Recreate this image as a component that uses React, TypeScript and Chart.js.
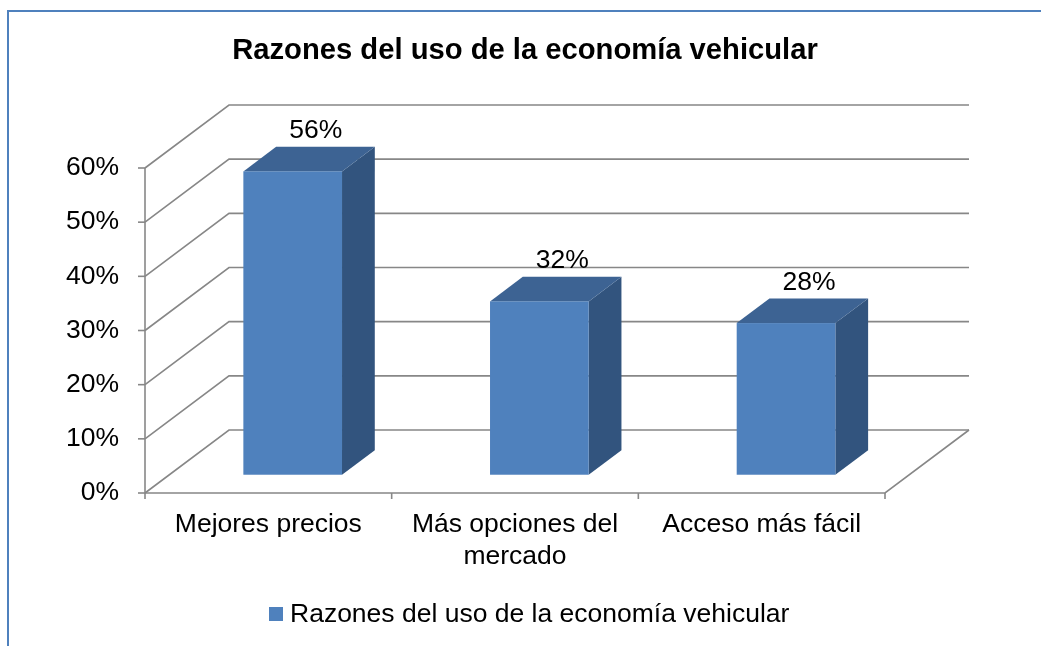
import React, { useEffect, useRef } from 'react';
import { Chart, registerables } from 'chart.js';

Chart.register(...registerables);

const TITLE = 'Razones del uso de la economía vehicular';
const SERIES_NAME = 'Razones del uso de la economía vehicular';
const CATEGORIES: (string | string[])[] = ['Mejores precios', ['Más opciones del', 'mercado'], 'Acceso más fácil'];
const VALUES = [56, 32, 28];
const Y_TICKS = [0, 10, 20, 30, 40, 50, 60];
const Y_MAX = 60;

const FONT = '"Liberation Sans", Arial, sans-serif';
const FRONT = '#4F81BD';
const TOP = '#3D6393';
const SIDE = '#32547E';
const GRID = '#878787';
const BORDER = '#4F81BD';
const DX = 84;
const DY = -63;
const BAR_OFF = 0.29;
const BAR_DEPTH = 0.39;

const threeD = {
  id: 'threeD',
  beforeDatasetsDraw(chart: any) {
    const { ctx, chartArea: a, scales } = chart;
    const x = scales.x;
    const y = scales.y;
    ctx.save();
    // outer border
    ctx.strokeStyle = BORDER;
    ctx.lineWidth = 2;
    ctx.beginPath();
    ctx.moveTo(8, 646);
    ctx.lineTo(8, 11);
    ctx.lineTo(1041, 11);
    ctx.stroke();

    ctx.strokeStyle = GRID;
    ctx.lineWidth = 1.6;
    ctx.lineJoin = 'miter';
    // walls / gridlines
    for (const v of Y_TICKS) {
      const py = y.getPixelForValue(v);
      ctx.beginPath();
      ctx.moveTo(a.left, py);
      ctx.lineTo(a.left + DX, py + DY);
      ctx.lineTo(a.right + DX, py + DY);
      ctx.stroke();
      // tick mark
      ctx.beginPath();
      ctx.moveTo(a.left - 7, py);
      ctx.lineTo(a.left, py);
      ctx.stroke();
    }
    const base = y.getPixelForValue(0);
    // y axis
    ctx.beginPath();
    ctx.moveTo(a.left, y.getPixelForValue(Y_MAX));
    ctx.lineTo(a.left, base);
    ctx.stroke();
    // floor front and right edges
    ctx.beginPath();
    ctx.moveTo(a.left, base);
    ctx.lineTo(a.right, base);
    ctx.lineTo(a.right + DX, base + DY);
    ctx.stroke();
    // category tick marks
    const n = CATEGORIES.length;
    const bounds: number[] = [a.left];
    for (let i = 1; i < n; i++) {
      bounds.push((x.getPixelForValue(i - 1) + x.getPixelForValue(i)) / 2);
    }
    bounds.push(a.right);
    for (const bx of bounds) {
      ctx.beginPath();
      ctx.moveTo(bx, base);
      ctx.lineTo(bx, base + 6);
      ctx.stroke();
    }
    ctx.restore();
  },
  afterDatasetsDraw(chart: any) {
    const { ctx } = chart;
    const meta = chart.getDatasetMeta(0);
    ctx.save();
    const fx = BAR_OFF * DX;
    const fy = BAR_OFF * DY;
    const ddx = BAR_DEPTH * DX;
    const ddy = BAR_DEPTH * DY;
    meta.data.forEach((el: any, i: number) => {
      const p = el.getProps(['x', 'y', 'base', 'width'], true);
      const L = p.x - p.width / 2 + fx;
      const R = p.x + p.width / 2 + fx;
      const T = p.y + fy;
      const B = p.base + fy;
      // side
      ctx.fillStyle = SIDE;
      ctx.beginPath();
      ctx.moveTo(R, T);
      ctx.lineTo(R + ddx, T + ddy);
      ctx.lineTo(R + ddx, B + ddy);
      ctx.lineTo(R, B);
      ctx.closePath();
      ctx.fill();
      // top
      ctx.fillStyle = TOP;
      ctx.beginPath();
      ctx.moveTo(L, T);
      ctx.lineTo(R, T);
      ctx.lineTo(R + ddx, T + ddy);
      ctx.lineTo(L + ddx, T + ddy);
      ctx.closePath();
      ctx.fill();
      // front
      ctx.fillStyle = FRONT;
      ctx.fillRect(L, T, R - L, B - T);
      // label
      ctx.fillStyle = '#000';
      ctx.font = `26.5px ${FONT}`;
      ctx.textAlign = 'center';
      ctx.textBaseline = 'alphabetic';
      ctx.fillText(`${VALUES[i]}%`, (L + R) / 2 + 23, T - 33);
    });
    ctx.restore();
  },
  afterDraw(chart: any) {
    const { ctx } = chart;
    ctx.save();
    ctx.fillStyle = '#000';
    ctx.font = `bold 29.2px ${FONT}`;
    ctx.textAlign = 'center';
    ctx.textBaseline = 'alphabetic';
    ctx.fillText(TITLE, 525, 59);
    // legend
    ctx.fillStyle = FRONT;
    ctx.fillRect(269, 607, 14, 14);
    ctx.fillStyle = '#000';
    ctx.font = `26.5px ${FONT}`;
    ctx.textAlign = 'left';
    ctx.fillText(SERIES_NAME, 290, 621.5);
    ctx.restore();
  },
};

export default function App() {
  const ref = useRef<HTMLCanvasElement | null>(null);
  useEffect(() => {
    if (!ref.current) return;
    const chart = new Chart(ref.current, {
      type: 'bar',
      data: {
        labels: CATEGORIES as any,
        datasets: [
          {
            label: SERIES_NAME,
            data: VALUES,
            backgroundColor: 'rgba(0,0,0,0)',
            borderWidth: 0,
            categoryPercentage: 1,
            barPercentage: 0.4,
          },
        ],
      },
      options: {
        responsive: false,
        animation: false,
        events: [],
        layout: { padding: { top: 168, right: 156, bottom: 0, left: 0 } },
        plugins: {
          legend: { display: false },
          title: { display: false },
          tooltip: { enabled: false },
        },
        scales: {
          x: {
            grid: { display: false, drawTicks: false },
            border: { display: false },
            ticks: {
              color: '#000',
              font: { family: FONT, size: 26.5 },
              padding: 16,
              maxRotation: 0,
              autoSkip: false,
            },
            afterFit: (s: any) => {
              s.height = 646 - 493;
            },
          },
          y: {
            min: 0,
            max: Y_MAX,
            grid: { display: false, drawTicks: false },
            border: { display: false },
            ticks: {
              stepSize: 10,
              color: '#000',
              font: { family: FONT, size: 26.5 },
              padding: 26,
              callback: (v: any) => `${v}%`,
            },
            afterFit: (s: any) => {
              s.width = 145;
            },
          },
        },
      },
      plugins: [threeD],
    });
    return () => chart.destroy();
  }, []);
  return (
    <div style={{ position: 'fixed', left: 0, top: 0, width: 1041, height: 646, background: '#fff' }}>
      <canvas ref={ref} width={1041} height={646} style={{ display: 'block' }} />
    </div>
  );
}
